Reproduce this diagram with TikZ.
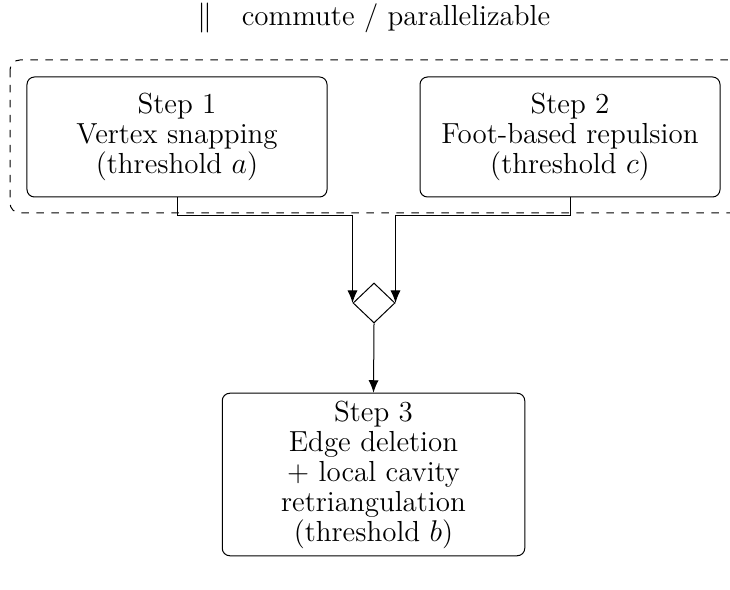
\documentclass[tikz,border=0pt]{standalone}
\usetikzlibrary{arrows.meta,shapes.geometric}
\begin{document}
\begin{tikzpicture}[x=0.4pt,y=-0.4pt,
  every node/.style={font=\fontsize{11.6pt}{12pt}\selectfont},
  stepbox/.style={draw,rounded corners=3pt,align=center,minimum width=120pt,minimum height=48pt,inner sep=0pt},
  joinbox/.style={draw,diamond,aspect=1.05,inner sep=0pt,minimum width=16.8pt,minimum height=16pt},
  groupbox/.style={draw,dashed,rounded corners=4pt},
  conn/.style={draw,-{Latex[length=5pt,width=4pt]}}]
\useasboundingbox (0,0) rectangle (730,590);
\node (title) at (374,18) {$\|$\quad commute / parallelizable};
\draw[groupbox] (10,60) rectangle (745,213);
\node[stepbox] (s1) at (177,137) {Step 1\\Vertex snapping\\(threshold $a$)};
\node[stepbox] (s2) at (570,137) {Step 2\\Foot-based repulsion\\(threshold $c$)};
\node[joinbox] (join) at (374,303) {};
\node[stepbox,minimum width=121pt,minimum height=65pt] (s3) at (373.5,474.5) {Step 3\\Edge deletion\\+ local cavity\\retriangulation\\(threshold $b$)};
\draw[conn] (s1.south) -- (177,216) -| (join.west);
\draw[conn] (s2.south) -- (570,216) -| (join.east);
\draw[conn] (join.south) -- (s3.north);
\end{tikzpicture}
\end{document}
